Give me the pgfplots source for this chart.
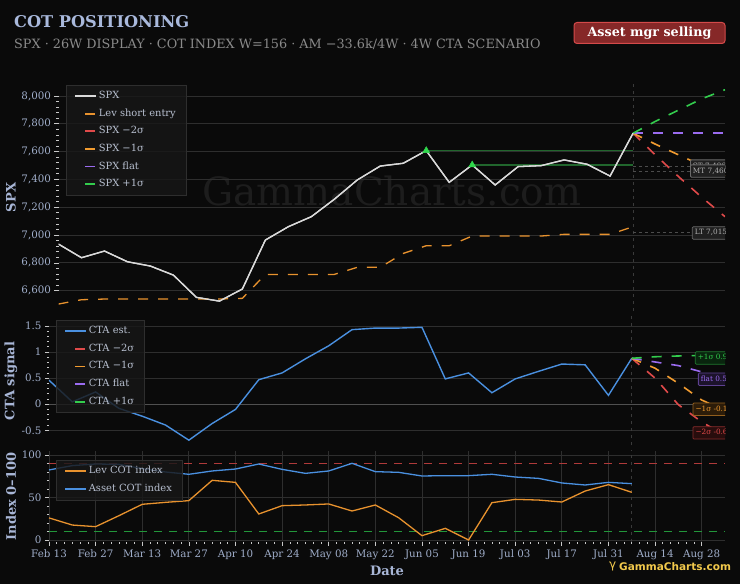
\documentclass[border=0pt]{standalone}
\usepackage{fontspec}
\setmainfont{DejaVu Serif}
\newfontfamily\logofont{DejaVu Sans}
\usepackage{pgfplots}
\usepackage{pgfplotstable}
\pgfplotsset{compat=1.18}

\definecolor{bg}{HTML}{0A0A0A}
\definecolor{gridc}{HTML}{2E2E2E}
\definecolor{zeroc}{HTML}{505050}
\definecolor{tickc}{HTML}{C8C8C8}
\definecolor{ticklab}{HTML}{9FADC9}
\definecolor{axlab}{HTML}{A8B6D6}
\definecolor{titlec}{HTML}{A9B9DC}
\definecolor{subc}{HTML}{8A8A8A}
\definecolor{legbg}{HTML}{171717}
\definecolor{legbd}{HTML}{2E2E2E}
\definecolor{legtext}{HTML}{B8C0D0}
\definecolor{spxc}{HTML}{DADADA}
\definecolor{levc}{HTML}{E8922E}
\definecolor{redc}{HTML}{E04A4A}
\definecolor{orgc}{HTML}{F29C30}
\definecolor{purc}{HTML}{9B6CF0}
\definecolor{grnc}{HTML}{33CC4D}
\definecolor{bluec}{HTML}{4A90E0}
\definecolor{resc}{HTML}{21662D}
\definecolor{trig}{HTML}{2FD84C}
\definecolor{thrred}{HTML}{B03A3A}
\definecolor{thrgrn}{HTML}{22963A}
\definecolor{vdot}{HTML}{3A3A3A}
\definecolor{lvl}{HTML}{4C4C4C}
\definecolor{wmc}{HTML}{1D1D1D}
\definecolor{badgebg}{HTML}{862828}
\definecolor{badgebd}{HTML}{D44A4A}
\definecolor{goldc}{HTML}{F2C94C}
\definecolor{lblgray}{HTML}{B0B0B0}

\pgfplotstableread{
w spx lev
0 6935 6504
1 6837 6535
2 6885 6540
3 6808 6540
4 6777 6540
5 6712 6540
6 6552 6540
7 6525 6540
8 6612 6545
9 6964 6717
10 7060 6717
11 7132 6717
12 7257 6717
13 7396 6768
14 7496 6768
15 7516 6868
16 7607 6923
17 7379 6923
18 7504 6993
19 7360 6993
20 7492 6993
21 7499 6993
22 7540 7005
23 7509 7005
24 7424 7005
25 7732 7060
}\spxdata

\pgfplotstableread{
w m2 m1 flat p1
25 7732 7732 7732 7732
26 7571 7651 7732 7820
27 7417 7575 7732 7900
28 7270 7500 7732 7980
29 7132 7424 7732 8045
}\spxproj

\pgfplotstableread{
w cta
0 0.46
1 0.045
2 0.235
3 -0.08
4 -0.23
5 -0.40
6 -0.69
7 -0.37
8 -0.10
9 0.47
10 0.60
11 0.87
12 1.12
13 1.43
14 1.46
15 1.46
16 1.475
17 0.485
18 0.60
19 0.22
20 0.485
21 0.63
22 0.77
23 0.755
24 0.17
25 0.88
}\ctadata

\pgfplotstableread{
w m2 m1 flat p1
25 0.88 0.88 0.88 0.88
26 0.50 0.69 0.81 0.91
27 -0.01 0.40 0.74 0.925
28 -0.34 0.08 0.62 0.935
29 -0.60 -0.12 0.52 0.94
}\ctaproj

\pgfplotstableread{
w lev asset
0 26 82.4
1 17.6 87.5
2 15.7 89.4
3 28.6 89
4 42 84
5 44.3 80
6 46.3 77.3
7 70.2 81.2
8 67.8 83.5
9 30.6 89.4
10 40.4 83.1
11 41.2 78.4
12 42.4 81.2
13 34.1 90.2
14 41.2 80.4
15 26.2 79.6
16 5.1 75.3
17 13.7 75.7
18 0 75.7
19 43.9 77.3
20 47.8 74.1
21 47 72.5
22 44.7 67.1
23 57.6 64.7
24 65.1 67.8
25 56.1 66.3
}\cotdata

\tikzset{
 lbl/.style={anchor=west, fill=#1!18!black, draw=#1!60!black, text=#1, font=\fontsize{7.3}{9}\selectfont,
    inner xsep=2.5pt, inner ysep=2.2pt, text height=6pt, text depth=2pt, rounded corners=1pt, line width=0.8pt},
 dsh/.style={dash pattern=on 10pt off 10pt, line width=1.6pt},
}

\pgfplotsset{
 darkax/.style={
  scale only axis, xmin=0, xmax=29, clip=true,
  axis line style={draw=none},
  tick style={color=tickc, line width=0.7pt},
  major tick length=4pt, minor tick length=2.2pt,
  tick align=outside, ytick pos=left, xtick pos=bottom,
  grid style={color=gridc, line width=0.8pt},
  ymajorgrids,
  tick label style={text=ticklab, font=\fontsize{10.3}{12}\selectfont},
  /pgf/number format/assume math mode=true,
  legend cell align=left,
  legend style={anchor=north west, fill=legbg, fill opacity=0.82, text opacity=1, draw opacity=1,
    draw=legbd, text=legtext, font=\fontsize{9.9}{11}\selectfont,
    inner xsep=8pt, inner ysep=4.5pt, row sep=4.6pt, column sep=0pt,
    nodes={inner sep=2pt, text height=7pt, text depth=2pt}},
 },
 leg/.style={legend image code/.code={\draw[#1, solid, line width=1.6pt] (0pt,0pt) -- (21pt,0pt);}},
 legd/.style={legend image code/.code={\draw[#1, solid, line width=1.8pt] (10pt,0pt) -- (20pt,0pt);}},
}

\begin{document}
\begin{tikzpicture}
\fill[bg] (0pt,0pt) rectangle (740pt,584pt);
\useasboundingbox (0pt,0pt) rectangle (740pt,584pt);

% header
\node[anchor=base west, text=titlec, font=\bfseries\fontsize{16.2}{19}\selectfont, inner sep=0pt] at (14pt,556pt) {COT POSITIONING};
\node[anchor=base west, text=subc, font=\fontsize{12.8}{15}\selectfont, inner sep=0pt] at (14pt,535.5pt) {SPX · 26W DISPLAY · COT INDEX W=156 · AM −33.6k/4W · 4W CTA SCENARIO};
\node[fill=badgebg, draw=badgebd, rounded corners=3pt, minimum width=151pt, minimum height=21pt, inner sep=0pt,
      text=white, font=\bfseries\fontsize{12.7}{14}\selectfont, line width=1pt] at (649.5pt,551pt) {Asset mgr selling};

% watermark
\node[anchor=base, text=wmc, font=\fontsize{39}{44}\selectfont, inner sep=0pt] at (392pt,378pt) {GammaCharts.com};

% axis labels
\node[rotate=90, text=axlab, font=\bfseries\fontsize{13}{15}\selectfont] at (11pt,386.5pt) {SPX};
\node[rotate=90, text=axlab, font=\bfseries\fontsize{13}{15}\selectfont] at (11pt,203pt) {CTA signal};
\node[rotate=90, text=axlab, font=\bfseries\fontsize{13}{15}\selectfont] at (11pt,87.5pt) {Index 0–100};
\node[text=axlab, font=\bfseries\fontsize{13}{15}\selectfont] at (387pt,13pt) {Date};

% logo
\node[anchor=west, text=goldc, font=\fontsize{12}{14}\selectfont, inner sep=0pt] at (609pt,18pt) {\logofont γ};
\node[anchor=west, text=goldc, font=\logofont\bfseries\fontsize{10.5}{12}\selectfont, inner sep=0pt] at (619pt,17pt) {GammaCharts.com};

% ---------------- top panel ----------------
\begin{axis}[darkax, at={(58.5pt,273pt)}, anchor=south west, width=666.5pt, height=227pt,
  ymin=6454, ymax=8086, ytick={6600,6800,...,8000}, minor y tick num=4, xtick=\empty,
  yticklabel style={/pgf/number format/.cd, fixed, 1000 sep={,}},
  legend style={at={(0.0113,0.9956)}}]
\addplot[vdot, dash pattern=on 3pt off 4pt, line width=1pt, forget plot] coordinates {(25,6000) (25,9000)};
\addplot[lvl, dash pattern=on 3pt off 3pt, line width=1pt, forget plot] coordinates {(25,7496) (29,7496)};
\addplot[lvl, dash pattern=on 3pt off 3pt, line width=1pt, forget plot] coordinates {(25,7460) (29,7460)};
\addplot[lvl, dash pattern=on 3pt off 3pt, line width=1pt, forget plot] coordinates {(25,7015) (29,7015)};
\addplot[resc, line width=1.3pt, forget plot] coordinates {(16,7607) (25,7607)};
\addplot[resc, line width=1.3pt, forget plot] coordinates {(18,7504) (25,7504)};
\addplot[spxc, line width=1.3pt, leg=spxc] table[x=w,y=spx]{\spxdata}; \addlegendentry{SPX}
\addplot[levc, dsh, line width=1.3pt, legd=levc] table[x=w,y=lev]{\spxdata}; \addlegendentry{Lev short entry}
\addplot[redc, dsh, legd=redc] table[x=w,y=m2]{\spxproj}; \addlegendentry{SPX −2σ}
\addplot[orgc, dsh, legd=orgc] table[x=w,y=m1]{\spxproj}; \addlegendentry{SPX −1σ}
\addplot[purc, dsh, legd=purc] table[x=w,y=flat]{\spxproj}; \addlegendentry{SPX flat}
\addplot[grnc, dsh, legd=grnc] table[x=w,y=p1]{\spxproj}; \addlegendentry{SPX +1σ}
\addplot[spxc, line width=1.3pt, forget plot] table[x=w,y=spx]{\spxdata};
\addplot[only marks, mark=triangle*, mark size=4pt, color=trig, forget plot] coordinates {(16,7607) (18,7504)};
\begin{scope}
\clip (rel axis cs:0,0) rectangle (rel axis cs:1,1);
\node[lbl=lblgray] at (axis cs:27.48,7496) {ST 7,496};
\node[lbl=lblgray] at (axis cs:27.48,7460) {MT 7,460};
\node[lbl=lblgray] at (axis cs:27.56,7015) {LT 7,015};
\end{scope}
\end{axis}

% ---------------- middle panel ----------------
\begin{axis}[darkax, at={(49pt,136pt)}, anchor=south west, width=676pt, height=134pt,
  ymin=-0.84, ymax=1.73, ytick={-0.5,0,0.5,1,1.5}, minor y tick num=4, xtick=\empty,
  legend style={at={(0.0104,0.955)}}]
\addplot[zeroc, line width=1pt, forget plot] coordinates {(0,0) (29,0)};
\addplot[vdot, dash pattern=on 3pt off 4pt, line width=1pt, forget plot] coordinates {(25,-2) (25,3)};
\addplot[bluec, line width=1.4pt, leg=bluec] table[x=w,y=cta]{\ctadata}; \addlegendentry{CTA est.}
\addplot[redc, dsh, legd=redc] table[x=w,y=m2]{\ctaproj}; \addlegendentry{CTA −2σ}
\addplot[orgc, dsh, legd=orgc] table[x=w,y=m1]{\ctaproj}; \addlegendentry{CTA −1σ}
\addplot[purc, dsh, legd=purc] table[x=w,y=flat]{\ctaproj}; \addlegendentry{CTA flat}
\addplot[grnc, dsh, legd=grnc] table[x=w,y=p1]{\ctaproj}; \addlegendentry{CTA +1σ}
\begin{scope}
\clip (rel axis cs:0,0) rectangle (rel axis cs:1,1);
\node[lbl=grnc] at (axis cs:27.71,0.887) {+1σ 0.94};
\node[lbl=purc] at (axis cs:27.84,0.479) {flat 0.52};
\node[lbl=orgc] at (axis cs:27.61,-0.096) {−1σ -0.12};
\node[lbl=redc] at (axis cs:27.61,-0.55) {−2σ -0.60};
\end{scope}
\end{axis}

% ---------------- bottom panel ----------------
\begin{axis}[darkax, at={(49pt,42pt)}, anchor=south west, width=676pt, height=91pt,
  ymin=-2.35, ymax=104.7, ytick={0,50,100}, minor y tick num=4,
  xtick={0,2,...,28}, minor x tick num=5, xmajorgrids,
  xticklabels={Feb 13,Feb 27,Mar 13,Mar 27,Apr 10,Apr 24,May 08,May 22,Jun 05,Jun 19,Jul 03,Jul 17,Jul 31,Aug 14,Aug 28},
  legend style={at={(0.0104,0.901)}}]
\draw[color=gridc, line width=0.8pt] (rel axis cs:0,0) -- (rel axis cs:1,0);
\addplot[vdot, dash pattern=on 3pt off 4pt, line width=1pt, forget plot] coordinates {(25,-10) (25,120)};
\addplot[thrred, dash pattern=on 8pt off 7pt, line width=1.5pt, forget plot] coordinates {(0,90) (29,90)};
\addplot[thrgrn, dash pattern=on 8pt off 7pt, line width=1.5pt, forget plot] coordinates {(0,10) (29,10)};
\addplot[levc, line width=1.3pt, leg=levc] table[x=w,y=lev]{\cotdata}; \addlegendentry{Lev COT index}
\addplot[bluec, line width=1.3pt, leg=bluec] table[x=w,y=asset]{\cotdata}; \addlegendentry{Asset COT index}
\end{axis}
\end{tikzpicture}
\end{document}
